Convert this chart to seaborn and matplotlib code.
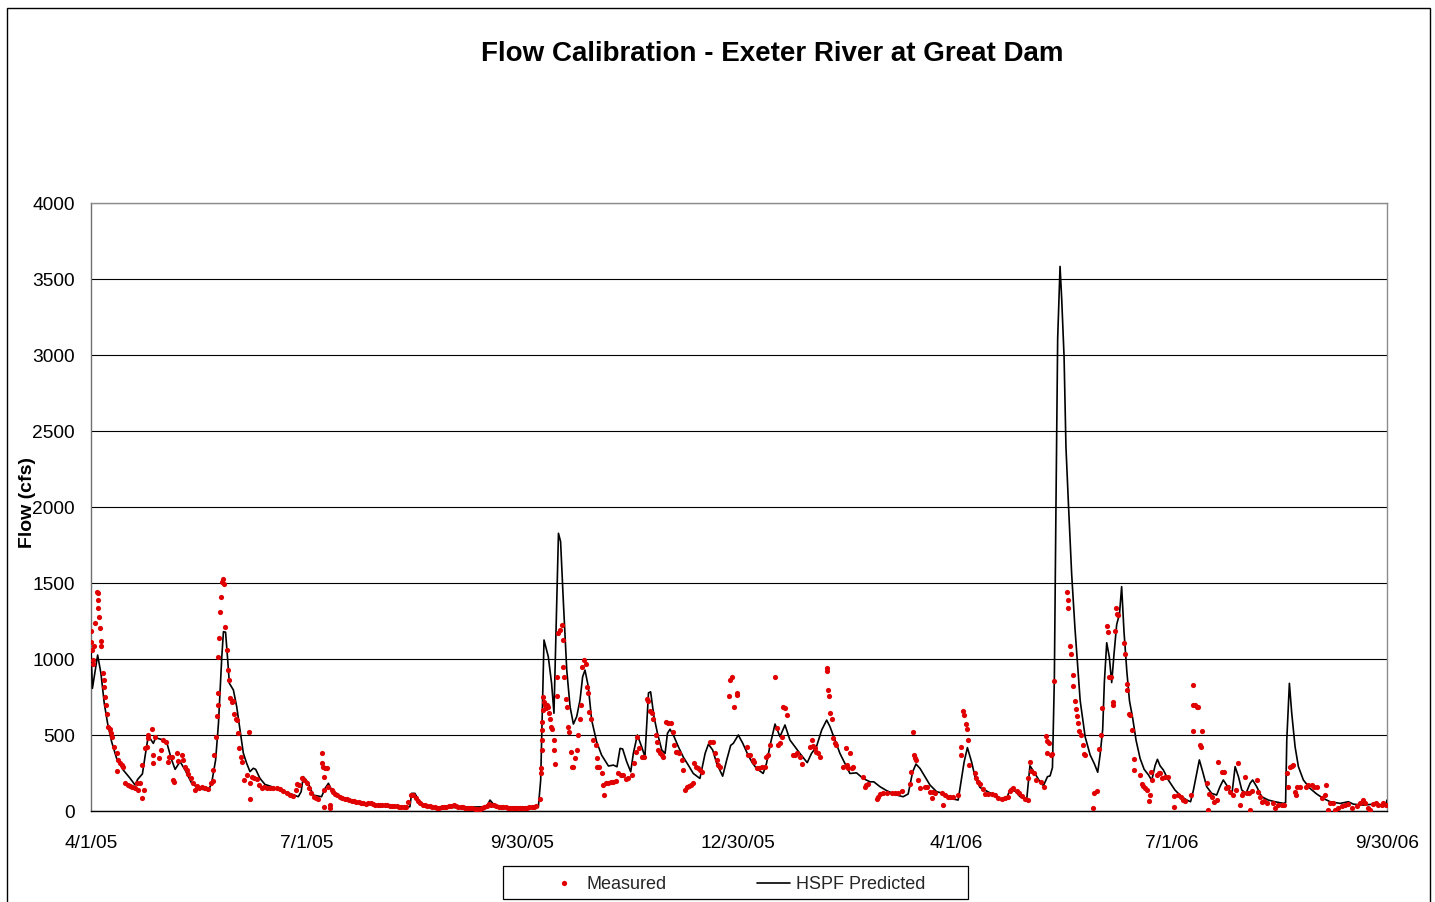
import numpy as np
import pandas as pd
import matplotlib
matplotlib.use("Agg")
import matplotlib.pyplot as plt
from matplotlib.lines import Line2D
from matplotlib.patches import Rectangle
import seaborn as sns

# ---------------- data (day offsets from 4/1/2005, flow in cfs) ----------------
START = "2005-04-01"

meas_day = [
    0.0, 0.0, 0.6, 1.0, 1.0, 1.4, 1.7, 2.4, 2.8, 2.8,
    3.1, 3.4, 3.8, 4.2, 4.2, 5.2, 5.5, 5.6, 5.9, 6.2,
    6.8, 7.3, 8.0, 8.4, 9.0, 9.8, 10.8, 11.1, 11.5, 12.2,
    12.9, 13.6, 14.4, 15.5, 16.5, 17.4, 18.6, 19.3, 20.0, 20.7,
    21.4, 21.7, 22.4, 22.8, 23.5, 23.9, 24.2, 25.6, 26.0, 26.3,
    27.0, 28.7, 29.5, 30.5, 31.5, 32.4, 32.9, 34.0, 34.8, 35.2,
    36.2, 36.9, 38.3, 39.0, 39.7, 40.4, 41.1, 42.2, 43.2, 43.9,
    44.6, 45.6, 46.7, 48.1, 49.5, 50.6, 51.4, 51.6, 52.1, 52.8,
    53.0, 53.5, 53.5, 53.8, 54.0, 54.5, 54.9, 55.2, 55.9, 56.3,
    56.6, 57.3, 57.7, 58.3, 58.7, 59.4, 60.1, 60.5, 61.1, 61.5,
    61.9, 62.6, 63.2, 63.9, 64.7, 65.7, 66.7, 67.1, 67.1, 67.8,
    68.9, 69.9, 70.9, 72.0, 73.2, 74.2, 75.6, 77.0, 78.4, 79.8,
    81.2, 82.6, 84.0, 85.4, 86.4, 87.1,
    88, 89, 90, 91, 92, 93, 94, 95, 96, 97.3,
    97.6, 98.1, 98.8, 99.5, 98.3, 98.3, 98.5, 100, 100.8, 101,
    101.6, 102, 103, 104, 105, 106, 107, 108, 109, 110,
    111, 112, 113, 114, 115, 116, 117, 118, 119, 120,
    121, 122, 123, 124, 125, 126, 127, 128, 129, 130,
    131, 132, 133, 134, 135, 136, 137, 138, 139, 140,
    141, 142, 143, 144, 145, 146, 147, 148, 149, 150,
    151, 152, 153, 154, 155, 156, 157, 158, 159, 160,
    161, 162, 163, 164, 165, 166, 167, 168, 169, 170,
    171, 172, 173, 174, 175, 176, 177, 178, 179, 180,
    181, 182, 183, 184, 185, 186, 187, 188,
    189.5, 189.8, 189.9, 190.2, 190.2, 190.5, 190.5, 190.9, 190.9, 191.2,
    191.6, 192.0, 192.6, 193.0, 193.5, 193.7, 194.2, 194.5, 195.4, 195.4,
    195.9, 196.6, 196.8, 197.3, 198.0, 198.7, 199.1, 199.4, 199.7, 200.5,
    200.8, 201.5, 201.9, 202.5, 202.9, 203.6, 204.3, 205.0, 205.7, 206.4,
    206.7, 207.4, 208.1, 208.9, 209.5, 209.8, 210.3, 210.9, 212.0, 213.2,
    213.4, 213.7, 214.6, 215.6, 216.0, 216.5, 217.4, 218.4, 219.4, 220.5,
    221.6, 222.6, 223.6, 224.7, 225.8, 226.8, 228.2, 229.2, 230.1, 230.6,
    231.5, 232.4, 233.4, 234.8, 235.2, 236.0, 236.7, 237.4, 238.5, 238.8,
    239.5, 240.2, 240.9, 241.6, 242.7, 243.7, 244.7, 245.5, 246.2, 246.9,
    247.5, 248.3, 249.3, 250.0, 250.7, 251.4, 252.2, 253.1, 254.2, 254.5,
    255.4, 256.4, 257.1, 257.8, 261.3, 262.4, 263.4, 264.1, 264.8, 265.5,
    269.4, 269.7, 270.4, 271.4, 272.5, 272.6, 276.8, 277.5,
    278.1, 279.2, 279.8, 280.9, 282.0, 283.0, 284.4, 285.1, 285.8, 286.5,
    288.7, 289.4, 290.1, 290.8, 291.5, 292.2, 292.9, 293.6, 296.1, 297.0,
    297.8, 299.2, 300.3, 303.4, 304.1, 304.8, 305.5, 306.2, 306.9, 307.6,
    310.5, 310.8, 311.2, 311.6, 312.1, 312.6, 313.3, 314.0, 314.4, 317.5,
    318.6, 318.9, 319.6, 320.3, 321.0, 321.7, 325.7, 326.6, 327.3, 328.0,
    331.6, 332.3, 333.0, 334.4, 335.8, 337.9, 339.3, 340.7, 342.1, 345.6,
    346.3, 346.8, 347.3, 347.9, 348.2, 349.2, 349.9, 352.0, 353.0, 354.1,
    354.8, 355.5, 356.2, 359.0, 359.7, 360.4, 361.8, 362.5, 363.9, 366.0,
    367.0, 367.4, 368.1, 368.4, 369.3, 369.6, 370.3, 370.7, 373.1, 373.6,
    374.5, 375.2, 376.4, 377.4, 378.8, 380.2, 381.6, 383.0, 384.4, 385.8,
    387.2, 387.9, 388.6, 389.3, 390.7, 391.8, 393.0, 394.2, 395.6, 395.4,
    396.3, 396.6, 398.0, 398.9, 400.9, 402.3, 403.1, 403.7, 404.5, 403.4,
    405.1, 405.6, 406.5, 412.1, 412.3, 412.5, 413.2, 413.5, 414.4, 414.4,
    415.3, 415.6, 416.1, 416.7, 417.2, 417.7, 418.6, 419.1, 419.5, 423.1,
    423.5, 424.5, 425.6, 426.2, 426.6, 428.7, 429.4, 429.8, 430.3, 431.2,
    431.5, 432.2, 432.7, 433.2, 433.6, 436.0, 436.5, 437.2, 437.4, 438.3,
    438.7, 439.3, 440.3, 440.3, 442.8, 443.5, 444.2, 444.9, 445.9, 446.4,
    447.0, 447.3, 447.7, 450.1, 450.9,
    451.2, 451.9, 453.3, 454.7, 457.1, 457.1, 458.9, 459.9, 461.0, 461.8,
    464.1, 465.3, 465.3, 466.0, 466.7, 467.4, 465.3, 468.1, 468.4, 469.1,
    471.2, 471.3, 472.0, 473.0, 474.0, 475.1, 475.8, 477.2, 478.2, 479.1,
    480.0, 480.7, 481.9, 483.3, 484.3, 485.0, 485.7, 486.4, 487.1, 488.1,
    488.9, 489.2, 489.9, 492.0, 492.7, 493.4, 494.1, 495.1, 496.2, 499.0,
    499.7, 501.2, 502.6, 503.5, 505.0, 505.4, 506.1, 506.8, 507.5, 508.2,
    508.6, 509.2, 510.3, 512.8, 513.8, 515.2, 516.2, 517.3, 519.4, 520.8,
    521.3, 522.3, 523.0, 524.1, 525.1, 526.5, 527.9, 529.3, 530.7, 532.1,
    534.2, 535.6, 537.0, 537.7, 539.1, 539.8, 541.2, 542.4, 543.4, 544.8,
    545.5, 546.6,
]

meas_flow = [
    1182, 1114, 1059, 993, 967, 1086, 1235, 1443, 1436, 1388,
    1333, 1278, 1206, 1120, 1087, 905, 862, 818, 752, 697,
    640, 553, 537, 511, 489, 423, 380, 263, 336, 318,
    303, 292, 182, 171, 165, 160, 149, 182, 138, 182,
    303, 88, 138, 413, 423, 500, 478, 537, 369, 314,
    489, 347, 402, 467, 456, 325, 358, 358, 204, 189,
    380, 331, 369, 336, 292, 270, 244, 215, 182, 138,
    165, 149, 160, 149, 145, 182, 200, 270, 369, 489,
    627, 697, 778, 1013, 1138, 1307, 1410, 1504, 1524, 1494,
    1208, 1059, 928, 862, 741, 719, 725, 640, 607, 596,
    511, 412, 358, 325, 204, 237, 522, 182, 77, 226,
    215, 208, 171, 149, 160, 149, 149, 149, 149, 142,
    134, 121, 105, 101, 138, 175,
    171, 215, 204, 182, 149, 116, 94, 88, 80, 379,
    313, 292, 281, 281, 226, 138, 28, 160, 39, 17,
    138, 125, 110, 102, 95, 88, 82, 77, 72, 68,
    66, 60, 56, 52, 50, 46, 50, 55, 45, 42,
    42, 42, 40, 38, 37, 36, 34, 33, 30, 28,
    28, 28, 28, 60, 105, 102, 85, 66, 55, 42,
    38, 34, 30, 25, 24, 22, 22, 24, 26, 28,
    32, 36, 37, 33, 29, 27, 24, 20, 19, 18,
    17, 16, 15, 15, 18, 25, 33, 46, 42, 39,
    34, 28, 26, 25, 24, 23, 22, 22, 22, 22,
    22, 22, 22, 22, 24, 25, 25, 30,
    77, 247, 280, 401, 467, 533, 588, 664, 752, 719,
    697, 675, 697, 681, 643, 603, 551, 538, 467, 401,
    306, 756, 883, 1169, 1191, 1224, 1125, 949, 883, 734,
    686, 555, 522, 390, 291, 291, 346, 401, 500, 603,
    697, 949, 993, 967, 818, 774, 651, 605, 467, 434,
    346, 287, 287, 247, 170, 102, 181, 181, 192, 192,
    199, 247, 236, 236, 212, 214, 236, 317, 390, 489,
    412, 353, 353, 740, 725, 655, 643, 603, 500, 456,
    401, 379, 368, 357, 588, 581, 577, 522, 434, 390,
    390, 379, 335, 273, 141, 159, 165, 170, 181, 313,
    291, 280, 269, 258, 456, 452, 379, 335, 302, 291,
    756, 865, 883, 686, 774, 760, 423, 368,
    368, 335, 325, 280, 280, 291, 291, 357, 368, 434,
    884, 544, 434, 445, 489, 686, 675, 631, 368, 368,
    379, 357, 309, 423, 467, 428, 412, 390, 379, 357,
    938, 922, 796, 757, 642, 602, 478, 445, 434, 291,
    412, 302, 280, 379, 280, 291, 225, 160, 171, 178,
    76, 94, 112, 116, 116, 116, 116, 116, 134, 178,
    258, 522, 368, 346, 335, 204, 149, 160, 160, 127,
    83, 123, 116, 116, 39, 105, 94, 94, 94, 105,
    368, 423, 660, 631, 572, 537, 467, 302, 250, 214,
    190, 179, 148, 112, 112, 112, 102, 83, 79, 85,
    95, 131, 143, 150, 131, 119, 100, 79, 71, 214,
    321, 262, 250, 202, 190, 155, 493, 460, 445, 381,
    369, 375, 857, 1440, 1388, 1333, 1088, 1036, 893, 821,
    721, 674, 626, 579, 524, 500, 436, 374, 369, 17,
    119, 131, 405, 500, 679, 1214, 1179, 881, 881, 714,
    698, 1183, 1333, 1298, 1290, 1107, 1036, 833, 793, 636,
    630, 536, 340, 269, 238, 179, 167, 150, 136, 64,
    102, 255, 207, 238, 250,
    248, 215, 226, 226, 99, 24, 105, 94, 72, 66,
    105, 829, 697, 697, 686, 686, 528, 434, 419, 528,
    182, 7, 112, 94, 61, 72, 325, 259, 254, 149,
    160, 127, 105, 138, 314, 39, 105, 116, 226, 116,
    116, 7, 134, 204, 127, 94, 61, 68, 50, 50,
    17, 39, 39, 39, 252, 160, 292, 296, 303, 127,
    105, 156, 160, 160, 171, 171, 160, 160, 83, 105,
    171, 7, 50, 50, 7, 17, 33, 39, 44, 17,
    35, 50, 72, 50, 17, 7, 46, 50, 39, 39,
    50, 39,
]

pred_day = [
    0, 0.6, 2.8, 4.2, 5.6, 7, 8.7, 10.8, 13.6, 16.5,
    18.6, 19.7, 21.7, 22.8, 23.9, 24.9, 26.3, 27.3, 30.5, 31.9,
    33.8, 35.5, 37.6, 39.7, 42.5, 45.3, 49.5, 50.9, 52.6, 53.8,
    55.2, 55.9, 56.8, 57.7, 58.4, 60.1, 61.5, 62.9, 64.3, 65.7,
    67.1, 68.5, 69.5, 71.3, 73.4, 76.3, 81.9, 87.5, 88.7, 89.6,
    91.5, 93.8, 97.3, 98.8, 100.2, 101.6, 105.1, 110.7, 116.3, 124.8,
    134.6, 135.3, 136.7, 138.9, 141.7, 150, 167, 168.4, 169.8, 172.6,
    188.8, 189.8, 191.2, 193, 194.4, 195.4, 197.3, 198.2, 199.4, 200.8,
    202.2, 203.6, 205, 206.4, 207.5, 208.5, 209.9, 211.3, 213.4, 215.5,
    218.4, 220.5, 222, 223.3, 224.4, 226.1, 227.8, 228.9, 230.6, 232.4,
    233.8, 235.3, 236.2, 237.6, 239.1, 240.9, 242.3, 243.3, 244.4, 246.1,
    247.9, 250, 252.1, 254.2, 257, 259.2, 260.6, 262.4, 264.1, 266.6,
    268.3, 270, 271.1, 273.2, 275.1, 277, 279, 280.9, 283.7, 285.1,
    286.8, 288.7, 290.8, 292.9, 295, 297.1, 299.2, 302.3, 304.1, 306.2,
    308.4, 310.5, 311.9, 314, 316.1, 318.2, 320.3, 323.1, 325.9, 328.8,
    330.4, 333, 335.8, 340, 342.8, 344.9, 346.8, 348.2, 349.9, 352,
    354.1, 356.9, 359.7, 362.5, 366, 368.5, 369.9, 371.7, 373.1, 375.2,
    378.1, 380.9, 384.4, 386.5, 387.9, 390, 392.1, 394.9, 396.3, 397.8,
    400.6, 402, 403.7, 404.8, 405.8, 406.6, 407.3, 408, 409, 409.7,
    410.7, 411.5, 412.5, 413.9, 415.3, 417.5, 419.6, 421.7, 423.5, 424.9,
    425.9, 427, 427.7, 428.7, 429.8, 430.8, 431.8, 432.9, 434.1, 435,
    436, 437.2, 438.3, 439.7, 441.1, 442.8, 444.5, 446.3, 447.7, 449.1,
    450.1, 451.2, 452.6, 454.7, 457.5, 460.3, 462.5, 464.1, 465.3, 466.7,
    467.8, 469.2, 470.9, 473, 475.1, 476.5, 477.9, 479.3, 481.5, 482.9,
    484.3, 485.7, 487.5, 489.2, 490.3, 492, 494.1, 496.9, 499.7, 503.3,
    504.2, 504.7, 505.8, 506.8, 508.2, 509.6, 511.7, 514.5, 517.3, 520.1,
    523, 527.2, 530.7, 532.8, 537, 541.2, 544.1, 546.6, 547,
]

pred_flow = [
    1059, 807, 1026, 905, 708, 577, 456, 347, 270, 215,
    171, 208, 244, 358, 467, 478, 445, 482, 467, 456,
    347, 274, 325, 270, 182, 149, 134, 182, 336, 577,
    1013, 1180, 1176, 993, 840, 796, 686, 533, 380, 314,
    259, 281, 274, 215, 175, 160, 127, 94, 127, 226,
    190, 105, 94, 149, 182, 138, 94, 68, 46, 37,
    28, 116, 116, 55, 33, 22, 28, 72, 46, 28,
    24, 204, 1125, 1016, 840, 643, 1827, 1772, 1366, 927,
    686, 572, 621, 730, 883, 927, 818, 599, 456, 368,
    296, 302, 291, 412, 408, 324, 258, 379, 500, 423,
    357, 777, 784, 621, 511, 401, 379, 511, 538, 489,
    423, 354, 302, 247, 214, 379, 440, 401, 313, 229,
    335, 432, 445, 500, 445, 379, 320, 280, 247, 313,
    445, 572, 489, 566, 467, 423, 379, 318, 379, 423,
    533, 598, 555, 467, 379, 313, 247, 251, 214, 192,
    192, 160, 134, 105, 94, 112, 258, 309, 280, 225,
    171, 127, 116, 83, 72, 321, 417, 321, 226, 155,
    131, 107, 71, 83, 143, 131, 95, 71, 298, 262,
    190, 167, 226, 231, 286, 869, 2036, 3107, 3583, 3369,
    2988, 2393, 2036, 1560, 1202, 726, 488, 369, 310, 255,
    369, 536, 845, 1107, 1012, 845, 1036, 1226, 1298, 1476,
    1179, 917, 726, 607, 464, 345, 274, 238, 202, 298,
    340, 298, 270, 204, 138, 94, 72, 61, 138, 248,
    336, 259, 160, 116, 105, 160, 204, 171, 105, 292,
    226, 138, 116, 182, 204, 160, 94, 72, 61, 50,
    55, 467, 840, 642, 423, 292, 204, 149, 112, 83,
    61, 50, 61, 45, 39, 45, 39, 45, 72,
]

tick_dates = ["2005-04-01", "2005-07-01", "2005-09-30", "2005-12-30",
              "2006-04-01", "2006-07-01", "2006-09-30"]
tick_labels = ["4/1/05", "7/1/05", "9/30/05", "12/30/05", "4/1/06", "7/1/06", "9/30/06"]
y_ticks = [0, 500, 1000, 1500, 2000, 2500, 3000, 3500, 4000]

title = "Flow Calibration - Exeter River at Great Dam"
ylabel = "Flow (cfs)"
series_names = ["Measured", "HSPF Predicted"]

# ---------------- build frames ----------------
start = pd.Timestamp(START)
meas = pd.DataFrame({
    "date": start + pd.to_timedelta(np.array(meas_day, dtype=float), unit="D"),
    "flow": meas_flow,
})
pred = pd.DataFrame({
    "date": start + pd.to_timedelta(np.array(pred_day, dtype=float), unit="D"),
    "flow": pred_flow,
})

# ---------------- style ----------------
sns.set_style("white")
plt.rcParams["font.family"] = ["Liberation Sans", "DejaVu Sans"]

W, H = 1435, 902
fig = plt.figure(figsize=(W / 100, H / 100), dpi=100)
fig.patch.set_facecolor("white")

L, R, T, B = 91, 1387, 203, 811
ax = fig.add_axes([L / W, 1 - B / H, (R - L) / W, (B - T) / H])

RED = "#E00000"
sns.lineplot(data=pred, x="date", y="flow", ax=ax, color="black", linewidth=1.2,
             estimator=None, sort=False, legend=False, zorder=3)
sns.scatterplot(data=meas, x="date", y="flow", ax=ax, color=RED, s=14,
                linewidth=0, legend=False, zorder=4)

ax.set_xlim(pd.Timestamp(tick_dates[0]), pd.Timestamp(tick_dates[-1]))
ax.set_ylim(0, 4000)
ax.set_yticks(y_ticks)
ax.set_yticklabels([str(v) for v in y_ticks])
ax.set_xticks([pd.Timestamp(d) for d in tick_dates])
ax.set_xticklabels(tick_labels)

ax.yaxis.grid(True, color="black", linewidth=0.8)
ax.xaxis.grid(False)
ax.set_axisbelow(True)

ax.spines["bottom"].set_color("black")
ax.spines["bottom"].set_linewidth(1.0)
ax.spines["left"].set_color("#707070")
ax.spines["left"].set_linewidth(1.0)
for side in ["top", "right"]:
    ax.spines[side].set_color("#8c8c8c")
    ax.spines[side].set_linewidth(1.0)

ax.tick_params(axis="both", which="major", direction="out", length=4.5, width=0.8,
               color="black", labelsize=13.8, labelcolor="black")
ax.tick_params(axis="y", pad=7)
ax.tick_params(axis="x", pad=12.5)

ax.set_xlabel("")
ax.set_ylabel(ylabel, fontsize=14, fontweight="bold", color="black")
ax.yaxis.set_label_coords((36 - L) / (R - L), (B - 502) / (B - T))

fig.text(772 / W, 1 - 54 / H, title, ha="center", va="center",
         fontsize=20, fontweight="bold", color="black")

# legend (frameless) + Excel-style box
handles = [
    Line2D([], [], linestyle="none", marker="o", markersize=3.8,
           markerfacecolor=RED, markeredgewidth=0),
    Line2D([], [], color="black", linewidth=1.2),
]
fig.legend(handles, series_names, loc="center", ncol=2, frameon=False,
           bbox_to_anchor=(736.5 / W, 1 - 884.5 / H), fontsize=13,
           handlelength=1.8, handletextpad=0.35, columnspacing=5.0,
           borderpad=0.0)
fig.patches.append(Rectangle((503 / W, 1 - 899 / H), (968 - 503) / W, 33 / H,
                             transform=fig.transFigure, fill=False,
                             edgecolor="black", linewidth=0.9))

# outer chart border
fig.patches.append(Rectangle((7 / W, -0.05), (1430 - 7) / W, 1.05 - 8 / H,
                             transform=fig.transFigure, fill=False,
                             edgecolor="black", linewidth=1.0))

fig.savefig("out.png", dpi=100, facecolor="white")
